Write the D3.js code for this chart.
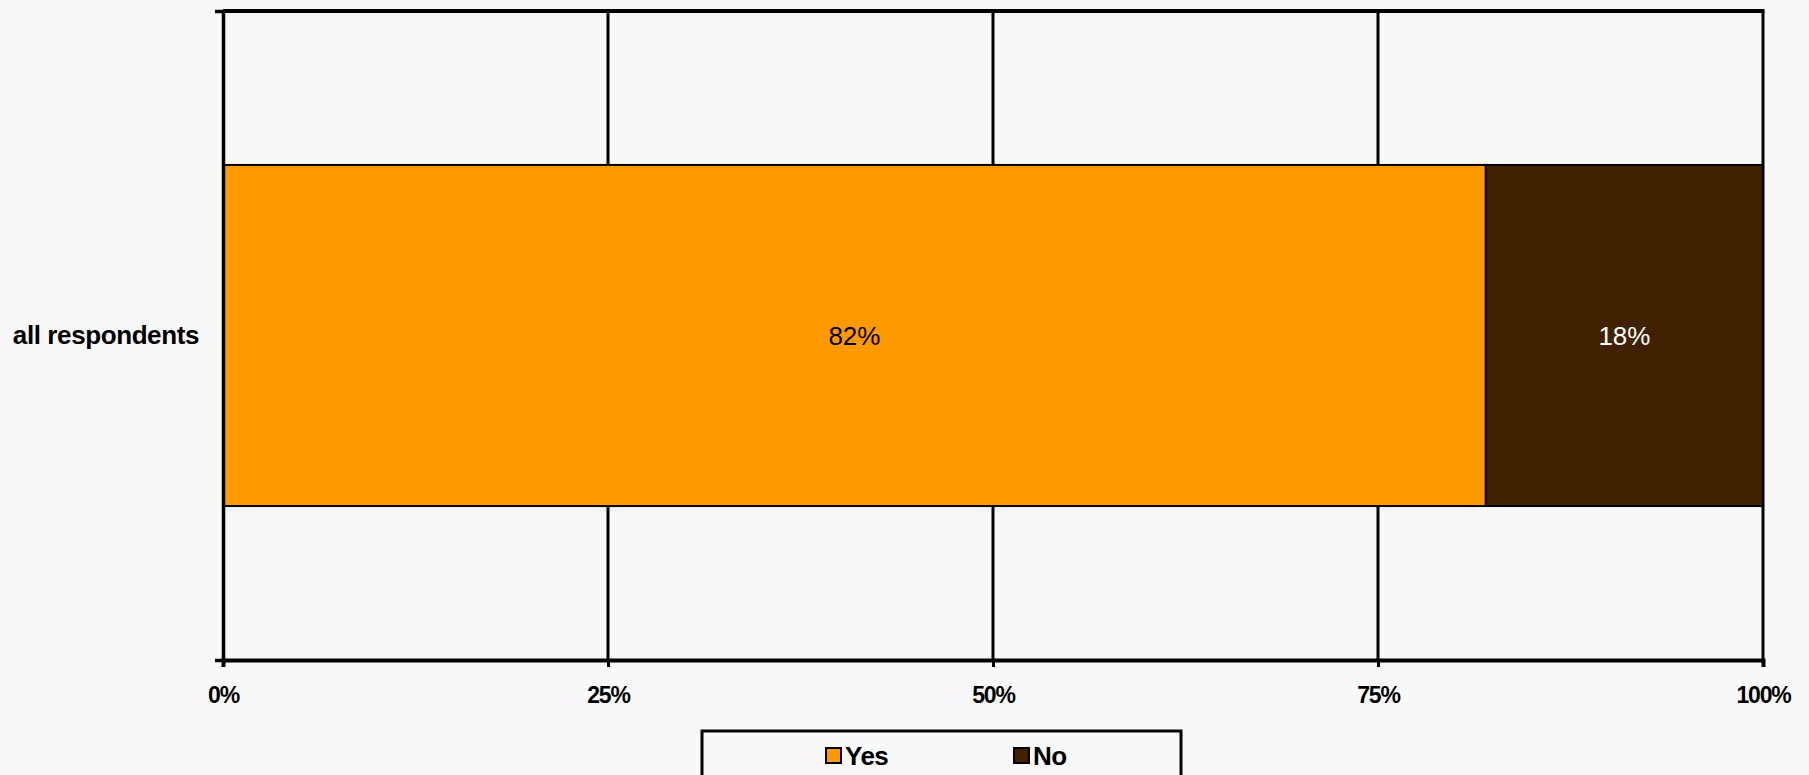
<!DOCTYPE html>
<html>
<head>
<meta charset="utf-8">
<script src="https://cdn.jsdelivr.net/npm/d3@7"></script>
<style>
  html, body { margin: 0; padding: 0; background: #f8f8f8; }
  svg { display: block; }
  text { font-family: "Liberation Sans", Arial, sans-serif; }
</style>
</head>
<body>
<script>
const categories = ["all respondents"];
const seriesNames = ["Yes", "No"];
const yesValues = [0.82];
const noValues = [0.18];
const xTicks = [0, 0.25, 0.5, 0.75, 1];
const colors = ["#ff9900", "#422100"];
const labelColors = ["#000000", "#ffffff"];

const W = 1809, H = 775;
const svg = d3.select("body").append("svg").attr("width", W).attr("height", H);

const x = d3.scaleLinear().domain([0, 1]).range([223, 1763]);
const y = d3.scaleBand().domain(categories).range([11, 660]).paddingInner(0.311).paddingOuter(0.311);

// gridlines
svg.append("g").selectAll("line").data(xTicks.slice(1)).join("line")
  .attr("x1", d => x(d)).attr("x2", d => x(d))
  .attr("y1", 11).attr("y2", 660)
  .attr("stroke", "#000").attr("stroke-width", 3);
// top border
svg.append("line").attr("x1", x(0)).attr("x2", x(1) + 1.5).attr("y1", 11).attr("y2", 11)
  .attr("stroke", "#000").attr("stroke-width", 4);

// stacked bars
const rows = categories.map((c, i) => ({cat: c, vals: [yesValues[i], noValues[i]]}));
const segs = [];
rows.forEach(r => {
  let acc = 0;
  r.vals.forEach((v, k) => { segs.push({cat: r.cat, k, x0: acc, x1: acc + v, v}); acc += v; });
});
svg.append("g").selectAll("rect").data(segs).join("rect")
  .attr("x", d => x(d.x0)).attr("width", d => x(d.x1) - x(d.x0))
  .attr("y", d => y(d.cat)).attr("height", y.bandwidth())
  .attr("fill", d => colors[d.k]).attr("stroke", "#000").attr("stroke-width", 2);
svg.append("g").selectAll("text").data(segs).join("text")
  .attr("x", d => (x(d.x0) + x(d.x1)) / 2)
  .attr("y", d => y(d.cat) + y.bandwidth() / 2)
  .attr("dy", "0.35em").attr("text-anchor", "middle")
  .attr("font-size", 26).attr("fill", d => labelColors[d.k])
  .text(d => d3.format(".0%")(d.v));

// x axis
const gx = svg.append("g").attr("transform", "translate(0,660)")
  .call(d3.axisBottom(x).tickValues(xTicks).tickFormat(d3.format(".0%"))
    .tickSizeInner(7).tickSizeOuter(7).tickPadding(20));
gx.select(".domain").attr("stroke-width", 4);
gx.selectAll(".tick line").attr("stroke-width", 3);
gx.selectAll("text").attr("font-size", 23).attr("font-weight", "bold")
  .attr("letter-spacing", "-1.2px").attr("fill", "#000");

// y axis
const gy = svg.append("g").attr("transform", "translate(223,0)")
  .call(d3.axisLeft(y).tickSizeInner(0).tickSizeOuter(8).tickPadding(24));
gy.select(".domain").attr("stroke-width", 3.5);
gy.selectAll("text").attr("font-size", 26).attr("font-weight", "bold")
  .attr("letter-spacing", "-0.4px").attr("fill", "#000");

// legend
const lg = svg.append("g");
lg.append("rect").attr("x", 702).attr("y", 731).attr("width", 479).attr("height", 80)
  .attr("fill", "none").attr("stroke", "#000").attr("stroke-width", 3);
const legX = [826, 1014];
const items = lg.selectAll("g.item").data(seriesNames).join("g").attr("class", "item")
  .attr("transform", (d, i) => `translate(${legX[i]},748)`);
items.append("rect").attr("width", 15).attr("height", 15)
  .attr("fill", (d, i) => colors[i]).attr("stroke", "#000").attr("stroke-width", 2);
items.append("text").attr("x", 19).attr("y", 8).attr("dy", "0.35em")
  .attr("font-size", 26).attr("font-weight", "bold").attr("letter-spacing", "-0.5px")
  .text(d => d);
</script>
</body>
</html>
